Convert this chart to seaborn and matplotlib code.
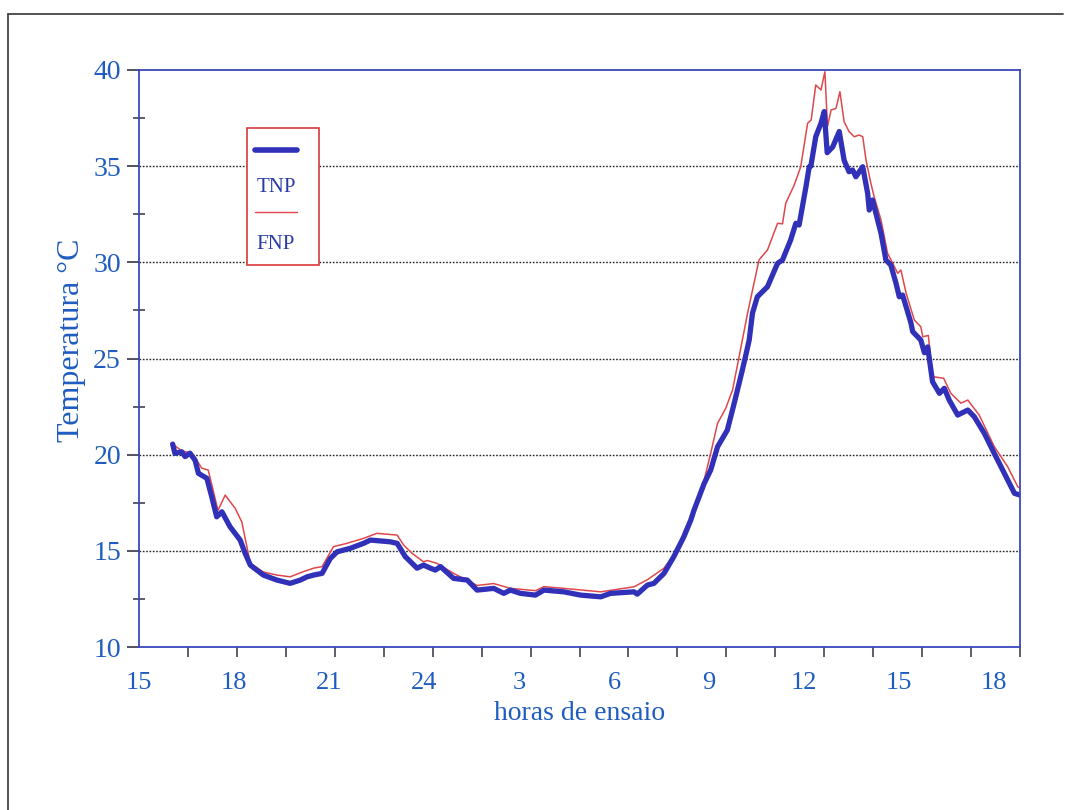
import numpy as np
import pandas as pd
import matplotlib
matplotlib.use("Agg")
import matplotlib.pyplot as plt
from matplotlib.lines import Line2D
from matplotlib.patches import Rectangle
import seaborn as sns

# Elapsed test time (hours from 15h of day 1) and temperatures (°C)
tnp_hours = [16.03, 16.10, 16.31, 16.41, 16.56, 16.72, 16.82, 17.08, 17.23, 17.38,
             17.54, 17.79, 18.10, 18.25, 18.41, 18.81, 19.23, 19.63, 19.94, 20.15,
             20.35, 20.61, 20.86, 21.07, 21.47, 21.88, 22.09, 22.70, 22.91, 23.16,
             23.52, 23.72, 23.93, 24.08, 24.24, 24.64, 25.06, 25.36, 25.87, 26.18,
             26.38, 26.69, 27.15, 27.41, 28.02, 28.53, 29.15, 29.45, 30.17, 30.27,
             30.58, 30.78, 31.09, 31.39, 31.70, 31.91, 32.01, 32.32, 32.52, 32.73,
             33.03, 33.24, 33.49, 33.60, 33.70, 33.80, 33.95, 34.26, 34.57, 34.72,
             34.97, 35.13, 35.23, 35.44, 35.54, 35.59, 35.74, 35.90, 36.00, 36.09,
             36.26, 36.46, 36.61, 36.76, 36.87, 36.97, 37.18, 37.33, 37.38, 37.48,
             37.74, 37.89, 38.04, 38.20, 38.30, 38.40, 38.51, 38.66, 38.71, 38.96,
             39.07, 39.17, 39.32, 39.53, 39.68, 39.83, 40.09, 40.40, 40.60, 40.91,
             41.21, 41.52, 41.83, 42.00]
tnp_temp = [20.55, 20.07, 20.15, 19.90, 20.08, 19.70, 19.03, 18.77, 17.80, 16.77,
            17.03, 16.25, 15.56, 14.88, 14.26, 13.74, 13.48, 13.31, 13.48, 13.65,
            13.74, 13.83, 14.60, 14.95, 15.13, 15.39, 15.56, 15.47, 15.39, 14.70,
            14.10, 14.26, 14.10, 14.00, 14.18, 13.57, 13.48, 12.96, 13.05, 12.79,
            12.96, 12.79, 12.70, 12.96, 12.87, 12.70, 12.61, 12.79, 12.87, 12.75,
            13.22, 13.31, 13.83, 14.70, 15.74, 16.60, 17.12, 18.50, 19.20, 20.41,
            21.28, 22.67, 24.40, 25.20, 25.96, 27.35, 28.21, 28.73, 29.95, 30.12,
            31.16, 32.03, 31.94, 33.93, 34.97, 35.00, 36.53, 37.23, 37.84, 35.70,
            36.00, 36.80, 35.30, 34.71, 34.80, 34.45, 34.97, 33.59, 32.72, 33.24,
            31.51, 30.12, 29.86, 28.91, 28.21, 28.30, 27.69, 26.83, 26.40, 25.96,
            25.30, 25.60, 23.79, 23.19, 23.45, 22.84, 22.06, 22.32, 21.97, 21.10,
            20.07, 19.03, 17.99, 17.90]

fnp_hours = [16.03, 16.31, 16.56, 16.67, 16.92, 17.12, 17.42, 17.64, 17.95, 18.15,
             18.41, 18.81, 19.23, 19.63, 20.04, 20.35, 20.61, 20.96, 21.37, 21.88,
             22.29, 22.91, 23.11, 23.37, 23.72, 23.83, 24.13, 24.64, 25.36, 25.87,
             26.38, 27.15, 27.41, 28.02, 29.15, 30.17, 30.58, 31.09, 31.50, 31.70,
             32.01, 32.32, 32.52, 32.73, 32.98, 33.19, 33.39, 33.65, 34.00, 34.26,
             34.57, 34.72, 34.82, 35.08, 35.28, 35.49, 35.60, 35.74, 35.90, 36.02,
             36.10, 36.21, 36.36, 36.48, 36.61, 36.76, 36.92, 37.07, 37.18, 37.28,
             37.43, 37.53, 37.74, 37.94, 38.10, 38.25, 38.35, 38.51, 38.76, 38.96,
             39.02, 39.19, 39.32, 39.66, 39.88, 40.19, 40.40, 40.75, 41.21, 41.62,
             41.93, 42.00]
fnp_temp = [20.55, 20.20, 20.10, 19.98, 19.30, 19.20, 17.10, 17.90, 17.20, 16.50,
            14.35, 13.90, 13.74, 13.65, 13.92, 14.10, 14.18, 15.22, 15.39, 15.65,
            15.91, 15.82, 15.30, 14.87, 14.43, 14.50, 14.35, 13.83, 13.20, 13.30,
            13.05, 12.93, 13.14, 13.05, 12.87, 13.13, 13.50, 14.10, 15.04, 16.00,
            17.12, 18.68, 20.07, 21.63, 22.41, 23.36, 25.09, 27.35, 30.12, 30.64,
            32.03, 32.00, 33.07, 34.02, 34.97, 37.23, 37.40, 39.22, 38.96, 39.91,
            37.06, 37.92, 38.00, 38.87, 37.31, 36.80, 36.53, 36.62, 36.53, 35.32,
            34.10, 33.41, 32.20, 30.47, 29.95, 29.43, 29.60, 28.39, 27.00, 26.65,
            26.13, 26.20, 24.06, 23.97, 23.19, 22.68, 22.84, 22.06, 20.42, 19.38,
            18.34, 18.25]

series_names = ["TNP", "FNP"]
x_tick_labels = ["15", "18", "21", "24", "3", "6", "9", "12", "15", "18"]
y_ticks = [10, 15, 20, 25, 30, 35, 40]

df = pd.concat([
    pd.DataFrame({"horas": tnp_hours, "temp": tnp_temp, "serie": series_names[0]}),
    pd.DataFrame({"horas": fnp_hours, "temp": fnp_temp, "serie": series_names[1]}),
])

sns.set_theme(style="white")
plt.rcParams["font.family"] = ["Liberation Serif", "DejaVu Serif"]

BLUE_LINE = "#3030b8"
RED_LINE = "#e0474c"
TEXT_BLUE = "#1f5cc0"
SPINE_BLUE = "#3a46c0"

fig = plt.figure(figsize=(10.72, 8.10), dpi=100)
ax = fig.add_axes([0.1297, 0.2012, 0.8218, 0.7124])

sns.lineplot(data=df[df.serie == "FNP"], x="horas", y="temp", ax=ax,
             color=RED_LINE, linewidth=1.1, estimator=None, sort=False, legend=False)
sns.lineplot(data=df[df.serie == "TNP"], x="horas", y="temp", ax=ax,
             color=BLUE_LINE, linewidth=3.8, estimator=None, sort=False, legend=False,
             solid_joinstyle="round", solid_capstyle="round")

ax.set_xlim(15, 42)
ax.set_ylim(10, 40)

# dotted horizontal grid
for v in y_ticks[1:-1]:
    ax.axhline(v, color="#222222", linestyle=(0, (1.2, 1.2)), linewidth=1.0, zorder=0.5)

for s in ax.spines.values():
    s.set_color(SPINE_BLUE)
    s.set_linewidth(1.3)

# y ticks
ax.set_yticks(y_ticks)
ax.set_yticks(np.arange(12.5, 40, 5), minor=True)
ax.tick_params(axis="y", which="major", direction="out", length=9, width=1.2,
               color="#333344", labelsize=20, labelcolor=TEXT_BLUE, pad=4, left=True)
ax.tick_params(axis="y", which="minor", direction="inout", length=8, width=1.1,
               color="#333344", left=True)

# x ticks: marks every 1.5 h, labels every 3 h
ax.set_xticks(np.arange(15, 42.01, 1.5), minor=True)
ax.set_xticks(np.linspace(15, 41.2, len(x_tick_labels)))
ax.set_xticklabels(x_tick_labels)
ax.tick_params(axis="x", which="major", length=0, labelsize=19, labelcolor=TEXT_BLUE, pad=18,
               bottom=True)
ax.tick_params(axis="x", which="minor", direction="out", length=7, width=1.1,
               color="#333344", bottom=True)

ax.set_xlabel("horas de ensaio", fontsize=20, color=TEXT_BLUE, labelpad=5)
ax.set_ylabel("Temperatura °C", fontsize=23, color=TEXT_BLUE)
ax.yaxis.set_label_coords(-0.06, 0.532)

# legend box: line sample with its label beneath
ax.add_patch(Rectangle((0.1226, 0.662), 0.0817, 0.2375, transform=ax.transAxes,
                       facecolor="white", edgecolor="#d83a3a", linewidth=1.2, zorder=5))
ax.add_line(Line2D([0.1317, 0.1793], [0.861, 0.861], transform=ax.transAxes,
                   color=BLUE_LINE, linewidth=4, solid_capstyle="round", zorder=6))
ax.text(0.1555, 0.797, series_names[0], transform=ax.transAxes, ha="center", va="center",
        fontsize=15, color="#2a3aa8", zorder=6)
ax.add_line(Line2D([0.1317, 0.1793], [0.754, 0.754], transform=ax.transAxes,
                   color=RED_LINE, linewidth=1.0, zorder=6))
ax.text(0.1555, 0.697, series_names[1], transform=ax.transAxes, ha="center", va="center",
        fontsize=15, color="#2a3aa8", zorder=6)

# page frame
fig.add_artist(Line2D([0.0075, 0.0075], [0.0, 0.9827], color="#444444", linewidth=1.3))
fig.add_artist(Line2D([0.0075, 0.992], [0.9827, 0.9827], color="#444444", linewidth=1.3))

fig.savefig("out.png", dpi=100, facecolor="white")
